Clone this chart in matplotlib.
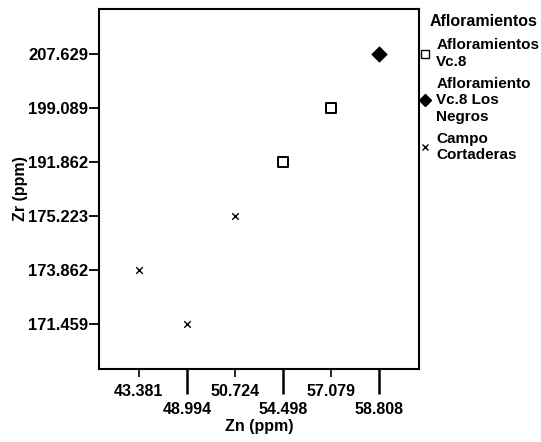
import matplotlib.pyplot as plt
from matplotlib.lines import Line2D

plt.rcParams['font.family'] = ['Liberation Sans', 'DejaVu Sans']
plt.rcParams['font.weight'] = 'bold'

# datos: Zn y Zr (ppm) por muestra
zn = [43.381, 48.994, 50.724, 54.498, 57.079, 58.808]
zr = [173.862, 171.459, 175.223, 191.862, 199.089, 207.629]
grupo = ['Campo Cortaderas', 'Campo Cortaderas', 'Campo Cortaderas',
         'Afloramientos Vc.8', 'Afloramientos Vc.8',
         'Afloramiento Vc.8 Los Negros']

grupos = ['Afloramientos Vc.8', 'Afloramiento Vc.8 Los Negros', 'Campo Cortaderas']
etiquetas = ['Afloramientos\nVc.8', 'Afloramiento\nVc.8 Los\nNegros', 'Campo\nCortaderas']

# ejes categóricos: cada valor ocupa una posición equidistante
zn_cat = sorted(set(zn))
zr_cat = sorted(set(zr))
zn_labels = [f'{v:.3f}' for v in zn_cat]
zr_labels = [f'{v:.3f}' for v in zr_cat]

estilos = {
    'Afloramientos Vc.8': dict(marker='s', s=50, facecolors='none', edgecolors='black', linewidths=1.4),
    'Afloramiento Vc.8 Los Negros': dict(marker='D', s=55, c='black'),
    'Campo Cortaderas': dict(marker='x', s=22, c='black', linewidths=1.0),
}

fig = plt.figure(figsize=(5.41, 4.42), dpi=100)
ax = fig.add_axes([0.183, 0.165, 0.592, 0.815])

for g in grupos:
    xs = [zn_cat.index(x) for x, gg in zip(zn, grupo) if gg == g]
    ys = [zr_cat.index(y) for y, gg in zip(zr, grupo) if gg == g]
    ax.scatter(xs, ys, **estilos[g])

ax.set_xlim(-0.83, len(zn_cat) - 1 + 0.83)
ax.set_ylim(-0.83, len(zr_cat) - 1 + 0.83)

# etiquetas del eje x alternadas (arriba / abajo)
ax.set_xticks(range(0, len(zn_cat), 2))
ax.set_xticklabels(zn_labels[0::2])
ax.set_xticks(range(1, len(zn_cat), 2), minor=True)
ax.set_xticklabels(zn_labels[1::2], minor=True)
ax.tick_params(axis='x', which='major', length=6, width=1.2, pad=5, labelsize=11.5)
ax.tick_params(axis='x', which='minor', length=18, width=1.8, pad=6, labelsize=11.5)

ax.set_yticks(range(len(zr_cat)))
ax.set_yticklabels(zr_labels)
ax.tick_params(axis='y', length=7, width=1.3, pad=1, labelsize=12)

for sp in ax.spines.values():
    sp.set_linewidth(1.5)

ax.set_xlabel('Zn (ppm)', fontsize=11.5, fontweight='bold', labelpad=1)
ax.set_ylabel('Zr (ppm)', fontsize=11.5, fontweight='bold')
ax.yaxis.set_label_coords(-0.222, 0.5)

# leyenda: título aparte para alinearlo como en el original
fig.text(430 / 541, 1 - 22 / 442, 'Afloramientos', fontsize=11.5,
         fontweight='bold', ha='left', va='center')
handles = [
    Line2D([0], [0], marker='s', linestyle='none', markerfacecolor='none', markeredgecolor='black', markersize=6),
    Line2D([0], [0], marker='D', linestyle='none', color='black', markersize=6),
    Line2D([0], [0], marker='x', linestyle='none', color='black', markersize=5),
]
leg = fig.legend(handles, etiquetas, loc='upper left',
                 bbox_to_anchor=(414 / 541, 1 - 32 / 442),
                 bbox_transform=fig.transFigure, frameon=False,
                 handlelength=0.6, handletextpad=0.45, labelspacing=0.5,
                 borderaxespad=0, fontsize=11)
for t in leg.get_texts():
    t.set_linespacing(1.25)

fig.savefig('out.png', dpi=100)
